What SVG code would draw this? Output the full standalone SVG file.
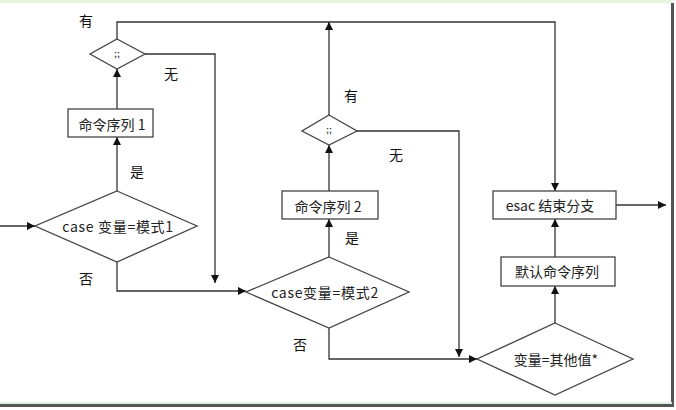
<svg xmlns="http://www.w3.org/2000/svg" width="676" height="410" viewBox="0 0 676 410">
<defs>
<marker id="arr" viewBox="0 0 10 10" refX="10" refY="5" markerWidth="8" markerHeight="8" markerUnits="userSpaceOnUse" orient="auto">
<path d="M0,0 L10,5 L0,10 z" fill="#111"/>
</marker>
</defs>
<style>
.shape{fill:#fff;stroke:#444;stroke-width:1.3}
.line{fill:none;stroke:#333;stroke-width:1.3}
.t{font-family:"Noto Sans CJK SC","Liberation Sans",sans-serif;font-size:14px;fill:#222;text-anchor:middle;dominant-baseline:central}
.wide{letter-spacing:0.7px}
.lbl{font-family:"Noto Sans CJK SC","Liberation Sans",sans-serif;font-size:14px;fill:#111;text-anchor:middle;dominant-baseline:central}
.semi{font-family:"Liberation Sans",sans-serif;font-size:9px;font-weight:bold;fill:#333;text-anchor:middle;dominant-baseline:central}
</style>
<rect x="0" y="0" width="676" height="410" fill="#fff"/>
<rect x="0" y="0" width="672" height="3" fill="#e6f4e0"/>
<rect x="671" y="3" width="3" height="403" fill="#555"/>
<rect x="0" y="402" width="672" height="2" fill="#dcefe4"/>
<rect x="0" y="404" width="674" height="3" fill="#555"/>

<g id="connectors">
<line class="line" x1="0" y1="226" x2="35" y2="226" marker-end="url(#arr)"/>
<line class="line" x1="117" y1="191" x2="117" y2="137" marker-end="url(#arr)"/>
<line class="line" x1="117" y1="109" x2="117" y2="69" marker-end="url(#arr)"/>
<polyline class="line" points="117,39 117,22 555,22 555,191" marker-end="url(#arr)"/>
<polyline class="line" points="145,54 215,54 215,283" marker-end="url(#arr)"/>
<polyline class="line" points="117,262 117,291 246,291" marker-end="url(#arr)"/>
<line class="line" x1="329" y1="257" x2="329" y2="219" marker-end="url(#arr)"/>
<line class="line" x1="329" y1="191" x2="329" y2="145" marker-end="url(#arr)"/>
<line class="line" x1="329" y1="115" x2="329" y2="22" marker-end="url(#arr)"/>
<polyline class="line" points="357,131 459,131 459,357" marker-end="url(#arr)"/>
<polyline class="line" points="329,328 329,359 477,359" marker-end="url(#arr)"/>
<line class="line" x1="555" y1="323" x2="555" y2="286" marker-end="url(#arr)"/>
<line class="line" x1="555" y1="257" x2="555" y2="219" marker-end="url(#arr)"/>
<line class="line" x1="616" y1="205" x2="666" y2="205" marker-end="url(#arr)"/>
</g>

<g id="labels">
<text class="lbl" x="86" y="20">有</text>
<text class="lbl" x="171" y="73">无</text>
<text class="lbl" x="137" y="171">是</text>
<text class="lbl" x="86" y="278">否</text>
<text class="lbl" x="351" y="95">有</text>
<text class="lbl" x="396" y="154">无</text>
<text class="lbl" x="352" y="237">是</text>
<text class="lbl" x="300" y="344">否</text>
</g>

<g id="dec1">
<polygon class="shape" points="117,39 145,54 117,69 90,54"/>
<text class="semi" x="117" y="54">;;</text>
</g>
<g id="box1">
<rect class="shape" x="68" y="109" width="85" height="28"/>
<text class="t" x="112" y="124">命令序列 1</text>
</g>
<g id="case1">
<polygon class="shape" points="117,191 197,226 117,262 35,226"/>
<text class="t wide" x="118" y="226">case 变量=模式1</text>
</g>
<g id="dec2">
<polygon class="shape" points="329,115 357,131 329,145 302,131"/>
<text class="semi" x="329" y="130">;;</text>
</g>
<g id="box2">
<rect class="shape" x="282" y="191" width="96" height="28"/>
<text class="t" x="328" y="206">命令序列 2</text>
</g>
<g id="case2">
<polygon class="shape" points="329,257 409,292 329,328 246,292"/>
<text class="t wide" x="325" y="292">case变量=模式2</text>
</g>
<g id="esac">
<rect class="shape" x="493" y="191" width="123" height="28"/>
<text class="t" x="550" y="205">esac 结束分支</text>
</g>
<g id="default">
<rect class="shape" x="501" y="257" width="114" height="29"/>
<text class="t" x="557" y="271">默认命令序列</text>
</g>
<g id="other">
<polygon class="shape" points="555,323 633,359 555,395 477,359"/>
<text class="t" x="556" y="359">变量=其他值*</text>
</g>
</svg>
